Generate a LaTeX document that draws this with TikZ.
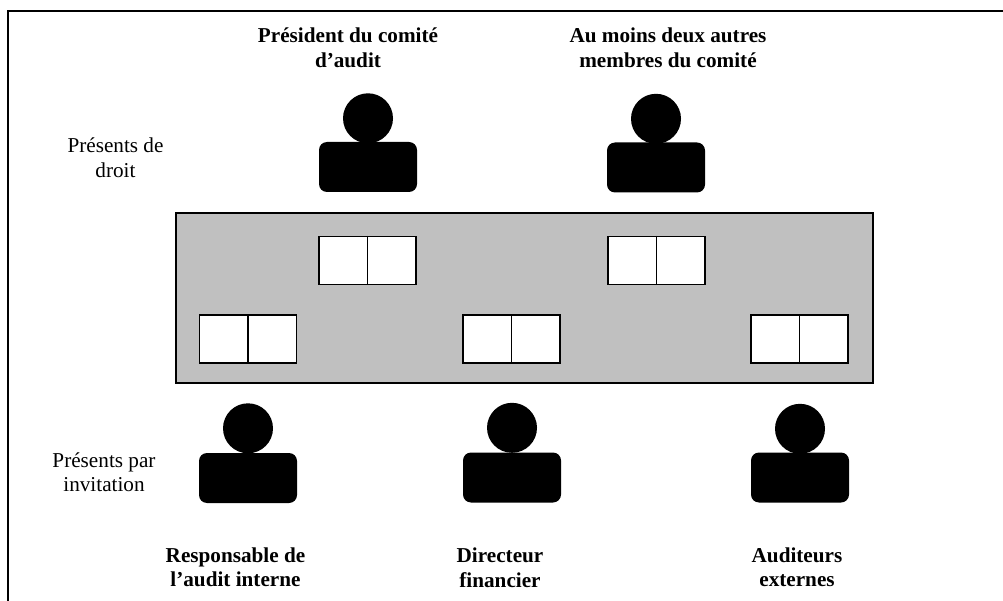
\documentclass[tikz,border=0pt]{standalone}
\usepackage{fontspec}
\setmainfont{Liberation Serif}
\definecolor{tablegray}{RGB}{192,192,192}
\begin{document}
\begin{tikzpicture}[x=1pt,y=-1pt,
  body/.style={fill=black, rounded corners=8pt, minimum width=98pt, minimum height=50pt, inner sep=0pt},
  head/.style={circle, fill=black, minimum size=50pt, inner sep=0pt},
  seat/.style={draw=black, fill=white, line width=1.4pt, minimum width=97pt, minimum height=48pt, inner sep=0pt},
  divider/.style={line width=1.4pt},
  lbl/.style={inner sep=0pt, anchor=base, font=\fontsize{21.2}{24.5}\selectfont},
  blbl/.style={inner sep=0pt, anchor=base, font=\fontsize{21.2}{24.5}\selectfont\bfseries}]
\useasboundingbox (0,0) rectangle (1003,601);
% frame
\draw[line width=1.5pt] (8,601) -- (8,11) -- (1003,11);
% table
\node[draw=black, line width=1.3pt, fill=tablegray, minimum width=697pt, minimum height=170pt, inner sep=0pt] (table) at (524.5,298) {};
% seats
\node[seat] (s1) at (367.5,260.5) {};
\node[seat] (s2) at (656.5,260.5) {};
\node[seat] (s3) at (248,339) {};
\node[seat] (s4) at (511.5,339) {};
\node[seat] (s5) at (799.5,339) {};
\foreach \s in {s1,s2,s3,s4,s5} \draw[divider] (\s.north) -- (\s.south);
% people
\node[body] (b1) at (368,167) {};
\node[body] (b2) at (656,167.5) {};
\node[body] (b3) at (248,478) {};
\node[body] (b4) at (512,477.5) {};
\node[body] (b5) at (800,477.5) {};
\node[head] (h1) at ([yshift=23.5pt]b1.north) {};
\node[head] (h2) at ([yshift=23.5pt]b2.north) {};
\node[head] (h3) at ([yshift=24.5pt]b3.north) {};
\node[head] (h4) at ([yshift=24.5pt]b4.north) {};
\node[head] (h5) at ([yshift=23.5pt]b5.north) {};
% labels
\node[blbl] (l1) at (348,43) {\begin{tabular}[t]{@{}c@{}}Président du comité\\d’audit\end{tabular}};
\node[blbl] (l2) at (668,43) {\begin{tabular}[t]{@{}c@{}}Au moins deux autres\\membres du comité\end{tabular}};
\node[lbl] (g1) at (115.5,153) {\begin{tabular}[t]{@{}c@{}}Présents de\\droit\end{tabular}};
\node[lbl] (g2) at (104,467) {\begin{tabular}[t]{@{}c@{}}Présents par\\invitation\end{tabular}};
\node[blbl] (l3) at (235.5,562) {\begin{tabular}[t]{@{}c@{}}Responsable de\\l’audit interne\end{tabular}};
\node[blbl] (l4) at (500,562.5) {\begin{tabular}[t]{@{}c@{}}Directeur\\financier\end{tabular}};
\node[blbl] (l5) at (797,562) {\begin{tabular}[t]{@{}c@{}}Auditeurs\\externes\end{tabular}};
\end{tikzpicture}
\end{document}
